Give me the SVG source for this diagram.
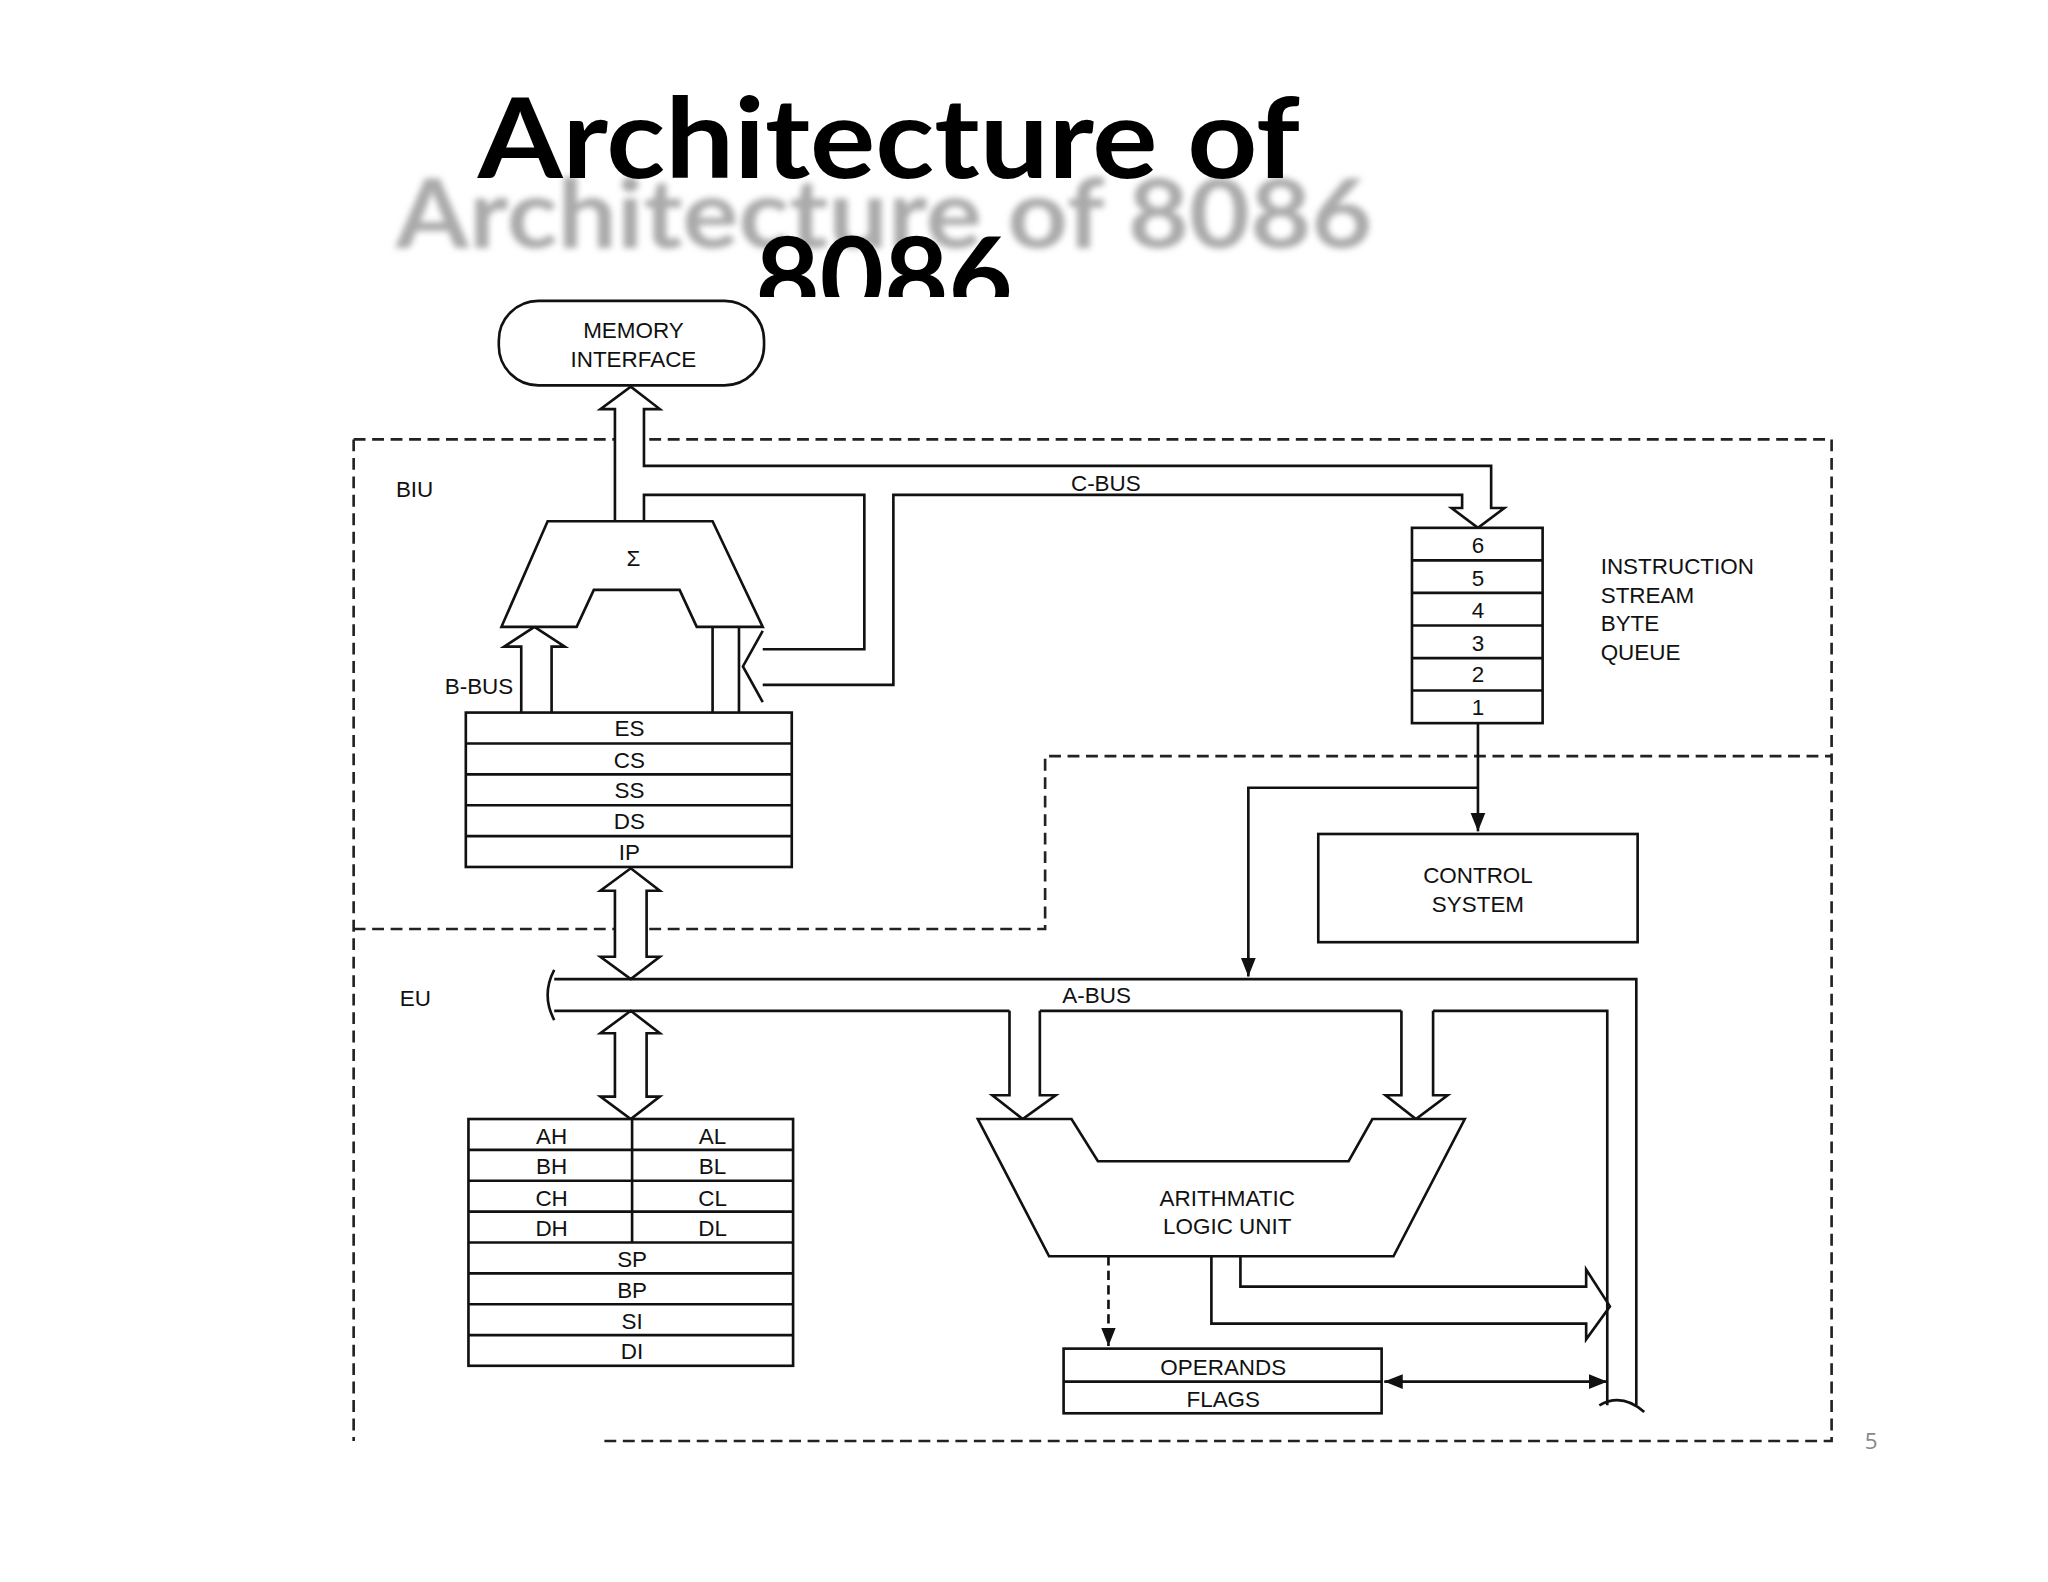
<svg xmlns="http://www.w3.org/2000/svg" width="2048" height="1582" viewBox="0 0 2048 1582">
<style>
.l{fill:none;stroke:#111;stroke-width:2}
.w{fill:#fff;stroke:#111;stroke-width:2}
.d{fill:none;stroke:#222;stroke-width:2;stroke-dasharray:9 5}
.t{font-family:"Liberation Sans",Arial,sans-serif;font-size:17px;fill:#111;text-anchor:middle}
.s{font-family:"Liberation Sans",Arial,sans-serif;font-size:17px;fill:#111}
</style>
<defs>
<filter id="b"><feGaussianBlur stdDeviation="2.5"/></filter>
<marker id="a" viewBox="0 0 10 10" refX="10" refY="5" markerWidth="7" markerHeight="7" orient="auto-start-reverse"><path d="M0,1 L10,5 L0,9 z" fill="#111"/></marker>
</defs>
<rect width="2048" height="1582" fill="#fff"/>
<g transform="scale(1.3196)">
<g id="title">
<text x="300" y="188" font-family="Lato,'Open Sans',sans-serif" font-weight="bold" font-size="72" fill="#aaa" textLength="740" lengthAdjust="spacingAndGlyphs" filter="url(#b)">Architecture of 8086</text>
<text x="362" y="135" font-family="Lato,'Open Sans',sans-serif" font-weight="bold" font-size="84" fill="#000" textLength="623" lengthAdjust="spacingAndGlyphs">Architecture of</text>
<svg x="500" y="150" width="340" height="75" overflow="hidden"><text x="170" y="90" font-family="Lato,'Open Sans',sans-serif" font-weight="bold" font-size="84" fill="#000" text-anchor="middle">8086</text></svg>
</g>
<g id="boundaries">
<path class="d" d="M268,333 H1388 V1092 H458"/>
<path class="d" d="M268,333 V1092"/>
<path class="d" d="M268,704 H792 V573 H1388"/>
<text class="s" x="300" y="377">BIU</text>
<text class="s" x="303" y="762">EU</text>
</g>
<g id="connectors">
<path class="w" d="M466,395 V310 H455 L478,293 L500,310 H488 V353 H1130 V385 H1140 L1120,400 L1100,385 H1108 V375 H677 V519 H578 M488,395 V375 H655 V492 H578"/>
<path class="l" d="M578,478 L563,505 L578,532"/>
<path class="w" d="M395,540 V490 H382 L405,475 L428,490 H418 V540"/>
<path class="l" d="M540,475 V540 M560,475 V540"/>
<path class="w" d="M466,675 H455 L478,658 L500,675 H490 V725 H500 L478,742 L455,725 H466 Z"/>
<path class="w" d="M466,783 H455 L478,766 L500,783 H490 V831 H500 L478,848 L455,831 H466 Z"/>
<path class="l" d="M420,742 H1240 V1065 M420,766 H765 M788,766 H1062 M1086,766 H1218 V1065"/>
<path class="l" d="M420,735 Q410,754 420,773"/>
<path class="l" d="M1212,1065 Q1229,1055 1246,1070"/>
<path class="w" d="M765,766 V830 H752 L775,848 L800,830 H788 V766"/>
<path class="w" d="M1062,766 V830 H1050 L1073,848 L1097,830 H1086 V766"/>
<path class="l" d="M940,952 V975 H1202 V962 L1220,990 L1202,1015 V1003 H918 V952"/>
<path class="l" d="M840,952 V1020" stroke-dasharray="7 4" marker-end="url(#a)"/>
<path class="l" d="M1049,1047 H1218" marker-start="url(#a)" marker-end="url(#a)"/>
<path class="l" d="M1120,548 V630" marker-end="url(#a)"/>
<path class="l" d="M1120,597 H946 V740" marker-end="url(#a)"/>
<text class="t" x="838" y="372">C-BUS</text>
<text class="t" x="831" y="760">A-BUS</text>
<text class="s" x="337" y="526">B-BUS</text>
</g>
<g id="memory"><rect class="w" x="378" y="228" width="201" height="64" rx="30"/><text class="t" x="480" y="256">MEMORY</text><text class="t" x="480" y="278">INTERFACE</text></g>
<g id="sigma"><path class="w" d="M415,395 H540 L578,475 H528 L515,447 H450 L437,475 H380 Z"/><text class="t" x="480" y="429">Σ</text></g>
<g id="segregs"><rect class="w" x="353" y="540" width="247" height="117"/>
<path class="l" d="M353,563.4 H600 M353,586.8 H600 M353,610.2 H600 M353,633.6 H600"/>
<text class="t" x="477" y="558">ES</text><text class="t" x="477" y="582">CS</text><text class="t" x="477" y="605">SS</text><text class="t" x="477" y="628">DS</text><text class="t" x="477" y="652">IP</text></g>
<g id="genregs"><rect class="w" x="355" y="848" width="246" height="187"/>
<path class="l" d="M355,871.4 H601 M355,894.8 H601 M355,918.2 H601 M355,941.6 H601 M355,965 H601 M355,988.4 H601 M355,1011.8 H601 M479,848 V941.6"/>
<text class="t" x="418" y="867">AH</text><text class="t" x="540" y="867">AL</text>
<text class="t" x="418" y="890">BH</text><text class="t" x="540" y="890">BL</text>
<text class="t" x="418" y="914">CH</text><text class="t" x="540" y="914">CL</text>
<text class="t" x="418" y="937">DH</text><text class="t" x="540" y="937">DL</text>
<text class="t" x="479" y="960">SP</text><text class="t" x="479" y="984">BP</text><text class="t" x="479" y="1007">SI</text><text class="t" x="479" y="1030">DI</text></g>
<g id="alu"><path class="w" d="M741,848 H812 L832,880 H1022 L1040,848 H1110 L1056,952 H795 Z"/><text class="t" x="930" y="914">ARITHMATIC</text><text class="t" x="930" y="935">LOGIC UNIT</text></g>
<g id="opflags"><rect class="w" x="806" y="1022" width="241" height="49"/><path class="l" d="M806,1047 H1047"/><text class="t" x="927" y="1042">OPERANDS</text><text class="t" x="927" y="1066">FLAGS</text></g>
<g id="queue"><rect class="w" x="1070" y="400" width="99" height="148"/>
<path class="l" d="M1070,424.7 H1169 M1070,449.3 H1169 M1070,474 H1169 M1070,498.7 H1169 M1070,523.3 H1169"/>
<text class="t" x="1120" y="419">6</text><text class="t" x="1120" y="444">5</text><text class="t" x="1120" y="468">4</text><text class="t" x="1120" y="493">3</text><text class="t" x="1120" y="517">2</text><text class="t" x="1120" y="542">1</text>
<text class="s" x="1213" y="435">INSTRUCTION</text><text class="s" x="1213" y="457">STREAM</text><text class="s" x="1213" y="478">BYTE</text><text class="s" x="1213" y="500">QUEUE</text></g>
<g id="control"><rect class="w" x="999" y="632" width="242" height="82"/><text class="t" x="1120" y="669">CONTROL</text><text class="t" x="1120" y="691">SYSTEM</text></g>
<text x="1418" y="1098" font-family="'Open Sans',sans-serif" font-size="17" fill="#888" text-anchor="middle">5</text>
</g>
</svg>
